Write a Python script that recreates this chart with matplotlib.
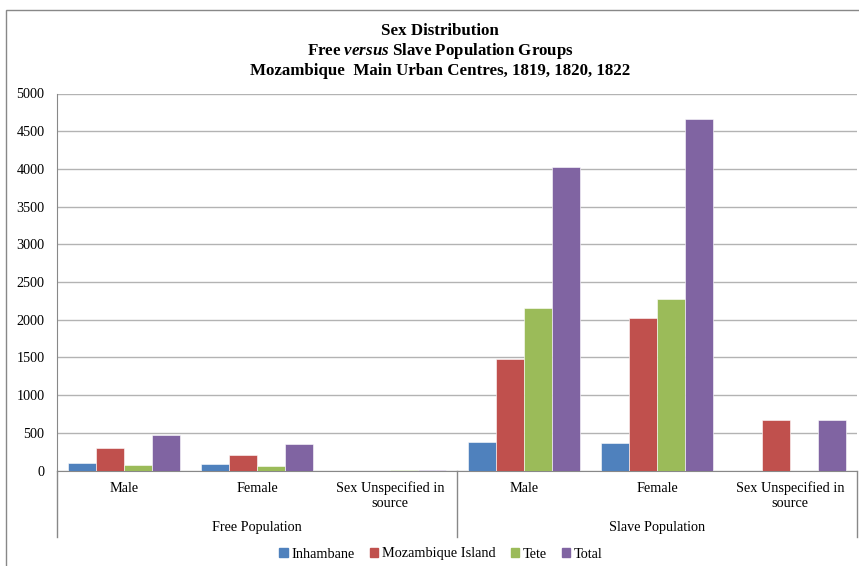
import numpy as np
import matplotlib
matplotlib.use("Agg")
import matplotlib.pyplot as plt
from matplotlib.patches import Rectangle, Patch

plt.rcParams['font.family'] = ['Liberation Serif', 'DejaVu Serif']
plt.rcParams['mathtext.fontset'] = 'custom'
plt.rcParams['mathtext.it'] = 'Liberation Serif:italic:bold'
plt.rcParams['mathtext.rm'] = 'Liberation Serif:bold'

# categories (two-level axis)
groups = ["Free Population", "Slave Population"]
sexes = ["Male", "Female", "Sex Unspecified in\nsource"]
series = ["Inhambane", "Mozambique Island", "Tete", "Total"]
colors = ["#4F81BD", "#C0504D", "#9BBB59", "#8064A2"]

# values per category: free male, free female, free unspecified, slave male, slave female, slave unspecified
inhambane = [96, 83, 0, 384, 361, 0]
moz_island = [293, 210, 0, 1479, 2026, 664]
tete = [70, 57, 10, 2153, 2272, 0]
total = [474, 355, 10, 4024, 4667, 664]
values = [inhambane, moz_island, tete, total]

fig = plt.figure(figsize=(8.59, 5.66), dpi=100)
ax = fig.add_axes([57/859, 1-470.5/566, 800/859, 377/566])

x = np.arange(6)
w = 0.21
for i, (name, vals, c) in enumerate(zip(series, values, colors)):
    ax.bar(x + (i - 1.5) * w, vals, width=w, color=c, label=name,
           edgecolor="white", linewidth=0.4, zorder=3)

ax.set_xlim(-0.5, 5.5)
ax.set_ylim(0, 5000)
ax.set_yticks(np.arange(0, 5001, 500))
ax.yaxis.grid(True, color="#b3b3b3", linewidth=1, zorder=0)
ax.tick_params(axis="y", length=0, pad=9, labelsize=10.2)
ax.set_xticks(x)
ax.set_xticklabels(sexes * 2, fontsize=10.3, va="top")
ax.tick_params(axis="x", length=0, pad=8)

for s in ["top", "right"]:
    ax.spines[s].set_visible(False)
ax.spines["left"].set_color("#888888")
ax.spines["bottom"].set_color("#888888")

# group separators and group labels under the axis
trans = ax.get_xaxis_transform()
for xs in [-0.5, 2.5, 5.5]:
    ax.plot([xs, xs], [0, -0.176], transform=trans, color="#888888",
            linewidth=1, clip_on=False)
for gi, g in enumerate(groups):
    ax.text(1 + 3 * gi, -0.1525, g, transform=trans, ha="center",
            va="center", fontsize=10.2)

# titles
fig.text(440/859, 1-31/566, "Sex Distribution", ha="center", va="center",
         fontsize=12.2, fontweight="bold")
fig.text(440/859, 1-51/566, r"Free $\mathit{versus}$ Slave Population Groups",
         ha="center", va="center", fontsize=12.2, fontweight="bold")
fig.text(440/859, 1-71/566, "Mozambique  Main Urban Centres, 1819, 1820, 1822",
         ha="center", va="center", fontsize=12.2, fontweight="bold")

handles = [Patch(color=c) for c in colors]
fig.legend(handles, series, loc="center", bbox_to_anchor=(441/859, 1-554/566),
           ncol=4, frameon=False, fontsize=10.3, handlelength=0.6,
           handleheight=0.6, handletextpad=0.25, columnspacing=1.05)

# chart frame
fig.add_artist(Rectangle((6/859, -0.1), 2, 0.1 + 1 - 10/566,
                         transform=fig.transFigure, fill=False,
                         edgecolor="#888888", linewidth=1))

fig.savefig("out.png", dpi=100)
